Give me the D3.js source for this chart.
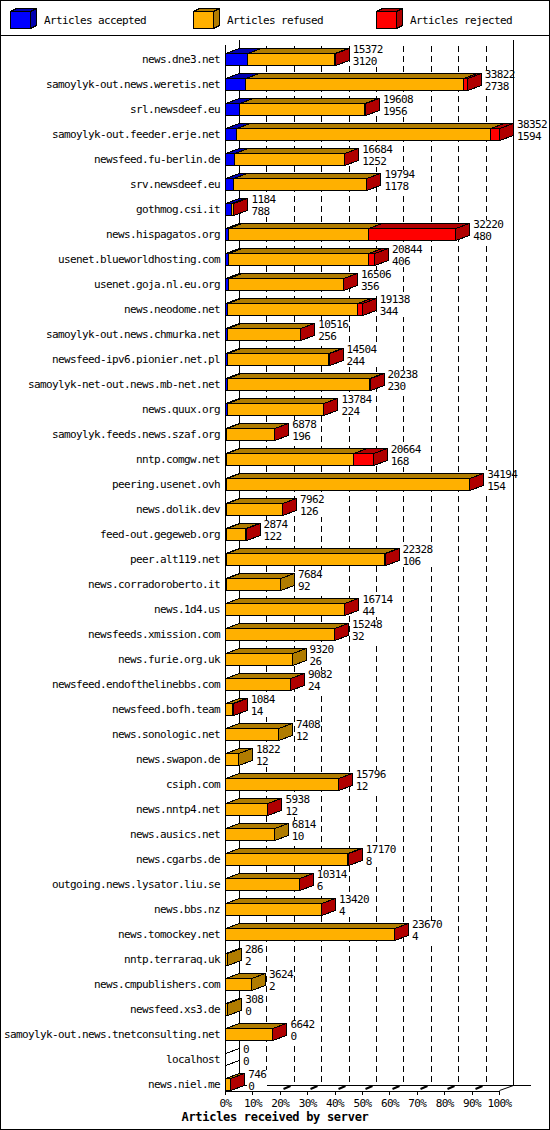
<!DOCTYPE html>
<html>
<head>
<meta charset="utf-8">
<script src="https://cdn.jsdelivr.net/npm/d3@7"></script>
<style>
  body { margin: 0; background: #fff; }
  svg text { font-family: "DejaVu Sans Mono", monospace; font-size: 11px; letter-spacing: -0.62px; fill: #000; }
</style>
</head>
<body>
<script>
// Chart data, top to bottom:
var hosts = [
  "news.dne3.net", "samoylyk-out.news.weretis.net", "srl.newsdeef.eu",
  "samoylyk-out.feeder.erje.net", "newsfeed.fu-berlin.de", "srv.newsdeef.eu",
  "gothmog.csi.it", "news.hispagatos.org", "usenet.blueworldhosting.com",
  "usenet.goja.nl.eu.org", "news.neodome.net", "samoylyk-out.news.chmurka.net",
  "newsfeed-ipv6.pionier.net.pl", "samoylyk-net-out.news.mb-net.net", "news.quux.org",
  "samoylyk.feeds.news.szaf.org", "nntp.comgw.net", "peering.usenet.ovh",
  "news.dolik.dev", "feed-out.gegeweb.org", "peer.alt119.net",
  "news.corradoroberto.it", "news.1d4.us", "newsfeeds.xmission.com",
  "news.furie.org.uk", "newsfeed.endofthelinebbs.com", "newsfeed.bofh.team",
  "news.sonologic.net", "news.swapon.de", "csiph.com",
  "news.nntp4.net", "news.ausics.net", "news.cgarbs.de",
  "outgoing.news.lysator.liu.se", "news.bbs.nz", "news.tomockey.net",
  "nntp.terraraq.uk", "news.cmpublishers.com", "newsfeed.xs3.de",
  "samoylyk-out.news.tnetconsulting.net", "localhost", "news.niel.me"
];
// Upper number beside each bar (all articles offered):
var offered = [
  15372, 33822, 19608, 38352, 16684, 19794, 1184, 32220, 20844, 16506,
  19138, 10516, 14504, 20238, 13784, 6878, 20664, 34194, 7962, 2874,
  22328, 7684, 16714, 15248, 9320, 9082, 1084, 7408, 1822, 15796,
  5938, 6814, 17170, 10314, 13420, 23670, 286, 3624, 308, 6642, 0, 746
];
var accepted = [
  3120, 2738, 1956, 1594, 1252, 1178, 788, 480, 406, 356,
  344, 256, 244, 230, 224, 196, 168, 154, 126, 122,
  106, 92, 44, 32, 26, 24, 14, 12, 12, 12,
  12, 10, 8, 6, 4, 4, 2, 2, 0, 0, 0, 0
];
var refused = [
  12192, 30524, 17532, 35498, 15342, 18516, 376, 19590, 19638, 16110,
  18094, 10230, 14230, 19978, 13500, 6652, 17786, 33990, 7816, 2732,
  22192, 7592, 16640, 15186, 9294, 9038, 950, 7396, 1810, 15754,
  5906, 6804, 17132, 10288, 13396, 23636, 284, 3622, 308, 6612, 0, 726
];
var rejected = [
  60, 560, 120, 1260, 90, 100, 20, 12150, 800, 40,
  700, 30, 30, 30, 60, 30, 2710, 50, 20, 20,
  30, 0, 30, 30, 0, 20, 120, 0, 0, 30,
  20, 0, 30, 20, 20, 30, 0, 0, 0, 30, 0, 20
];
var pct_ticks = [0, 10, 20, 30, 40, 50, 60, 70, 80, 90, 100];
var series_keys = ["accepted", "refused", "rejected"];
var legend_labels = ["Articles accepted", "Articles refused", "Articles rejected"];
var axis_title = "Articles received by server";

// Figure proportions:
var width = 550, height = 1130,
    plot_left = 225, plot_right = 499,
    plot_top = 40, floor_y = 1090,
    dx = 14, dy = 5,
    bar_half = 6,
    char_w = 6;

// Front and top/side colours per series:
var front_color = { accepted: "#0000ff", refused: "#ffb000", rejected: "#ff0000" };
var dark_color  = { accepted: "#0000b0", refused: "#b07c00", rejected: "#b00000" };

var svg = d3.select("body").append("svg")
  .attr("width", width)
  .attr("height", height)
;

// Outer frame and legend separator:
svg.append("rect")
  .attr("x", 0.5).attr("y", 0.5)
  .attr("width", width - 1).attr("height", height - 1)
  .attr("fill", "none").attr("stroke", "#000")
;
svg.append("line")
  .attr("x1", 0).attr("x2", width)
  .attr("y1", 35.5).attr("y2", 35.5)
  .attr("stroke", "#000")
;

// Scales:
var x = d3.scaleLinear()
  .domain([0, d3.max(offered)])
  .range([plot_left, plot_right])
;
var xp = d3.scaleLinear()
  .domain([0, 100])
  .range([plot_left, plot_right])
;
var y = d3.scalePoint()
  .domain(hosts)
  .range([59, 1084])
;

// Round to pixel centre so lines stay sharp:
function px(v) { return Math.round(v) + 0.5; }

// Faces of one 3D block:
function faces(x0, x1, y0, y1, ox, oy) {
  return {
    front: [[x0, y0], [x1, y0], [x1, y1], [x0, y1]],
    top:   [[x0, y0], [x1, y0], [x1 + ox, y0 - oy], [x0 + ox, y0 - oy]],
    side:  [[x1, y0], [x1 + ox, y0 - oy], [x1 + ox, y1 - oy], [x1, y1]]
  };
}
function pts(p) { return p.map(d => d.join(",")).join(" "); }

function draw_block(g, f, c_front, c_dark) {
  g.append("polygon").attr("points", pts(f.front)).attr("fill", c_front);
  g.append("polygon").attr("points", pts(f.top)).attr("fill", c_dark);
  g.append("polygon").attr("points", pts(f.side)).attr("fill", c_dark);
}

// Legend:
var legend = svg.append("g")
  .attr("stroke", "#000")
  .attr("shape-rendering", "crispEdges")
;
series_keys.forEach(function(k, i) {
  var lx = 10 + 183 * i;
  draw_block(legend, faces(lx + 0.5, lx + 20.5, 11.5, 28.5, 6, 3), front_color[k], dark_color[k]);
  svg.append("text")
    .attr("x", lx + 34)
    .attr("y", 24)
    .text(legend_labels[i])
  ;
});

// Back wall dashed grid:
var grid = svg.append("g").attr("shape-rendering", "crispEdges");
grid.selectAll("line")
  .data(pct_ticks.slice(1, 10))
  .enter()
  .append("line")
    .attr("x1", d => px(xp(d) + dx))
    .attr("x2", d => px(xp(d) + dx))
    .attr("y1", plot_top + 6)
    .attr("y2", floor_y - dy)
    .attr("stroke", "#000")
    .attr("stroke-dasharray", "6,4")
;

// Floor: back edge, side diagonals and the little tick marks:
grid.append("line")
  .attr("x1", px(xp(0) + dx)).attr("x2", 531)
  .attr("y1", floor_y - dy + 0.5).attr("y2", floor_y - dy + 0.5)
  .attr("stroke", "#000")
;
svg.append("line")
  .attr("x1", px(xp(100))).attr("y1", floor_y + 0.5)
  .attr("x2", px(xp(100) + dx)).attr("y2", floor_y - dy + 0.5)
  .attr("stroke", "#000")
;
svg.append("line")
  .attr("x1", px(xp(0))).attr("y1", floor_y + 0.5)
  .attr("x2", px(xp(0) + dx)).attr("y2", floor_y - dy + 0.5)
  .attr("stroke", "#000")
;
svg.append("g")
  .selectAll("path")
  .data(pct_ticks.slice(1, 10))
  .enter()
  .append("path")
    .attr("d", d => "M" + (px(xp(d)) + 3) + "," + (floor_y - 1) + "L" + (px(xp(d)) + 10) + "," + (floor_y - 4))
    .attr("stroke", "#000")
    .attr("stroke-width", 2)
    .attr("fill", "none")
;

// Host names:
svg.append("g")
  .selectAll("text")
  .data(hosts)
  .enter()
  .append("text")
    .attr("x", 220)
    .attr("y", d => y(d) + 4)
    .attr("text-anchor", "end")
    .text(d => d)
;

// Offered and accepted counts beside each bar, on a white patch:
var counts = svg.append("g")
  .selectAll("g")
  .data(hosts)
  .enter()
  .append("g")
;
counts.append("rect")
  .attr("x", (d, i) => Math.round(x(offered[i]) + dx + 3))
  .attr("y", d => y(d) - 14)
  .attr("width", (d, i) => char_w * Math.max(String(offered[i]).length, String(accepted[i]).length) + 2)
  .attr("height", 22)
  .attr("fill", "#fff")
;
counts.append("text")
  .attr("x", (d, i) => x(offered[i]) + dx + 4)
  .attr("y", d => y(d) - 6)
  .text((d, i) => offered[i])
;
counts.append("text")
  .attr("x", (d, i) => x(offered[i]) + dx + 4)
  .attr("y", d => y(d) + 6)
  .text((d, i) => accepted[i])
;

// Solid walls at 0% and 100% (bars sit in front of them):
svg.append("g")
  .attr("shape-rendering", "crispEdges")
  .selectAll("line")
  .data([0, 100])
  .enter()
  .append("line")
    .attr("x1", d => px(xp(d) + dx))
    .attr("x2", d => px(xp(d) + dx))
    .attr("y1", plot_top)
    .attr("y2", floor_y - dy)
    .attr("stroke", "#000")
;

// Stacked 3D bars, one series after the other:
var rows = hosts.map(function(h, i) {
  return { host: h, accepted: accepted[i], refused: refused[i], rejected: rejected[i] };
});
var stacked = d3.stack().keys(series_keys)(rows);

var bars = svg.append("g")
  .attr("stroke", "#000")
  .attr("shape-rendering", "crispEdges")
;
stacked.forEach(function(s) {
  s.forEach(function(d) {
    if (d[1] - d[0] <= 0) return;
    var yc = y(d.data.host);
    var f = faces(px(x(d[0])), px(x(d[1])), yc - bar_half + 0.5, yc + bar_half + 0.5, dx, dy);
    draw_block(bars, f, front_color[s.key], dark_color[s.key]);
  });
});

// Empty rows still show the outline of a flat block:
hosts.forEach(function(h, i) {
  if (offered[i] > 0) return;
  var yc = y(h);
  var f = faces(px(x(0)), px(x(0)), yc - bar_half + 0.5, yc + bar_half + 0.5, dx, dy);
  bars.append("polygon").attr("points", pts(f.side)).attr("fill", "#fff");
});

// Front left axis:
svg.append("line")
  .attr("x1", px(plot_left)).attr("x2", px(plot_left))
  .attr("y1", plot_top + 5).attr("y2", floor_y)
  .attr("stroke", "#000")
  .attr("shape-rendering", "crispEdges")
;

// Percent axis along the front edge:
var xAxis = svg.append("g")
  .attr("transform", "translate(0," + (floor_y + 0.5) + ")")
  .attr("shape-rendering", "crispEdges")
  .call(d3.axisBottom(xp)
    .tickValues(pct_ticks)
    .tickSize(4)
    .tickSizeOuter(0)
    .tickPadding(5)
    .tickFormat(d => d + "%"))
;
xAxis.attr("font-family", null).attr("font-size", null);

// Axis title:
svg.append("text")
  .attr("x", width / 2)
  .attr("y", 1121)
  .attr("text-anchor", "middle")
  .style("font-weight", "bold")
  .style("font-size", "12px")
  .style("letter-spacing", "-0.3px")
  .text(axis_title)
;
</script>
</body>
</html>
